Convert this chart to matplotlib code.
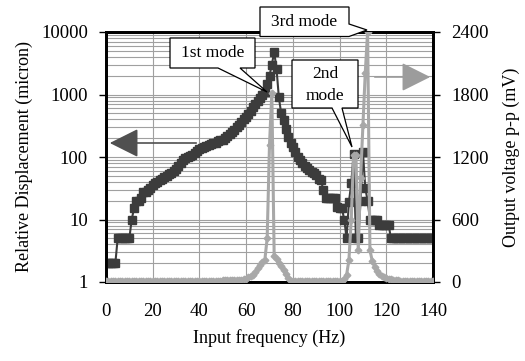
import matplotlib
matplotlib.use("Agg")
import matplotlib.pyplot as plt
from matplotlib.patches import Polygon, FancyArrowPatch
from matplotlib.ticker import LogLocator, NullFormatter

plt.rcParams['font.family'] = ['Liberation Serif', 'DejaVu Serif']

# ---- data ----
freq = list(range(0, 141))

displacement = (
    [2, 2, 2, 2, 2] +                                   # 0-4
    [5, 5, 5, 5, 5, 5] +                                # 5-10
    [10, 15, 20, 20, 22, 28, 28, 30, 32, 35] +          # 11-20
    [38, 40, 43, 45, 47, 50, 53, 56, 60, 65] +          # 21-30
    [72, 80, 88, 95, 100, 104, 108, 115, 125, 135] +    # 31-40
    [140, 145, 150, 155, 160, 165, 170, 178, 185, 190] +  # 41-50
    [200, 215, 230, 250, 270, 300, 330, 360, 400, 440] +  # 51-60
    [490, 550, 620, 700, 780, 880, 980, 1100, 1450, 2000] +  # 61-70
    [3000, 4800, 2600, 900, 500, 390, 280, 210, 170, 146] +  # 71-80
    [120, 100, 88, 80, 72, 66, 62, 58, 55, 52] +        # 81-90
    [45, 43, 30, 22, 22, 22, 22, 22, 16, 15] +          # 91-100
    [15, 10, 5, 19, 38, 110, 5, 5, 20, 122] +           # 101-110
    [32, 20, 10, 10, 10, 10, 8.2, 8.2, 8.2, 8.2] +      # 111-120
    [8.2] + [5] * 19                                     # 121-140
)

voltage = (
    [8] * 40 +                                           # 0-39
    [12] * 10 +                                          # 40-49
    [20] * 9 +                                           # 50-58
    [25, 30, 45, 60, 67, 95, 130, 163, 190, 211] +       # 59-68
    [420, 1320, 1810, 250, 220, 180, 150, 115, 80, 35] +  # 69-78
    [10] * 23 +                                          # 79-101
    [25, 67, 211, 600, 1220, 1220, 307, 1000, 1507, 2010] +  # 102-111
    [2400, 307, 200, 147, 110, 80, 60, 51, 40, 32] +     # 112-121
    [26, 22, 18, 15] +                                   # 122-125
    [10] * 15                                            # 126-140
)

x_ticks = [0, 20, 40, 60, 80, 100, 120, 140]
left_ticks = [1, 10, 100, 1000, 10000]
left_labels = ['1', '10', '100', '1000', '10000']
right_ticks = [0, 600, 1200, 1800, 2400]

W, H = 525, 361
fig = plt.figure(figsize=(W / 100, H / 100), dpi=100)
ax1 = fig.add_axes([106 / W, 1 - 282 / H, (433 - 106) / W, (282 - 32) / H])

dark = '#3c3c3c'
light = '#a8a8a8'
TS = 13.5

ax1.plot(freq, displacement, color=dark, lw=1.5, marker='s', ms=5.3,
         mec=dark, mfc=dark, zorder=3)
ax1.set_yscale('log')
ax1.set_ylim(1, 10000)
ax1.set_xlim(0, 140)
ax1.set_yticks(left_ticks)
ax1.set_yticklabels(left_labels)
ax1.yaxis.set_minor_locator(LogLocator(base=10, subs=range(2, 10)))
ax1.yaxis.set_minor_formatter(NullFormatter())
ax1.set_xticks(x_ticks)
ax1.grid(True, which='major', axis='both', color='#a0a0a0', lw=0.8)
ax1.grid(True, which='minor', axis='y', color='#a0a0a0', lw=0.8)
ax1.set_axisbelow(True)
ax1.tick_params(axis='y', which='major', length=5, width=1, pad=8, labelsize=TS)
ax1.tick_params(axis='y', which='minor', length=0)
ax1.tick_params(axis='x', length=0, pad=15, labelsize=TS)
ax1.set_xlabel('Input frequency (Hz)', fontsize=13, labelpad=7)
ax1.set_ylabel('Relative Displacement (micron)', fontsize=13, labelpad=6)

ax2 = ax1.twinx()
ax2.plot(freq, voltage, color=light, lw=2.2, marker='D', ms=3.4,
         mec=light, mfc=light, zorder=3)
ax2.set_ylim(0, 2400)
ax2.set_yticks(right_ticks)
ax2.tick_params(axis='y', length=5, width=1, pad=8, labelsize=TS)
ax2.set_ylabel('Output voltage p-p (mV)', fontsize=13, labelpad=10)

for a in (ax1, ax2):
    for s in a.spines.values():
        s.set_linewidth(2)
        s.set_color('black')

# direction arrows (in figure pixel coordinates)
def fp(px, py):
    return (px / W, 1 - py / H)

fig.add_artist(FancyArrowPatch(
    fp(199, 143), fp(107, 143), transform=fig.transFigure,
    arrowstyle='-|>,head_length=1.2,head_width=0.6', mutation_scale=15,
    color='#505050', lw=1.2, zorder=6))
fig.add_artist(FancyArrowPatch(
    fp(372, 77), fp(433, 77), transform=fig.transFigure,
    arrowstyle='-|>,head_length=1.2,head_width=0.6', mutation_scale=15,
    color='#9c9c9c', lw=1.2, zorder=6))

# callouts
def callout(pts):
    poly = Polygon([fp(*p) for p in pts], closed=True, transform=fig.transFigure,
                   facecolor='white', edgecolor='black', lw=0.9, zorder=7)
    fig.add_artist(poly)

CS = 12.5
callout([(170, 38), (255, 38), (255, 68), (240, 68), (267, 92), (218, 68), (170, 68)])
fig.text(*fp(212.5, 53), '1st mode', ha='center', va='center', fontsize=CS, zorder=8)

callout([(260, 7), (349, 7), (349, 24), (367, 30), (349, 36.5), (260, 36.5)])
fig.text(*fp(304.5, 22), '3rd mode', ha='center', va='center', fontsize=CS, zorder=8)

callout([(292, 60), (358, 60), (358, 108), (342, 108), (352, 147), (332, 108), (292, 108)])
fig.text(*fp(325, 74), '2nd', ha='center', va='center', fontsize=CS, zorder=8)
fig.text(*fp(325, 96), 'mode', ha='center', va='center', fontsize=CS, zorder=8)

fig.savefig('out.png', dpi=100)
